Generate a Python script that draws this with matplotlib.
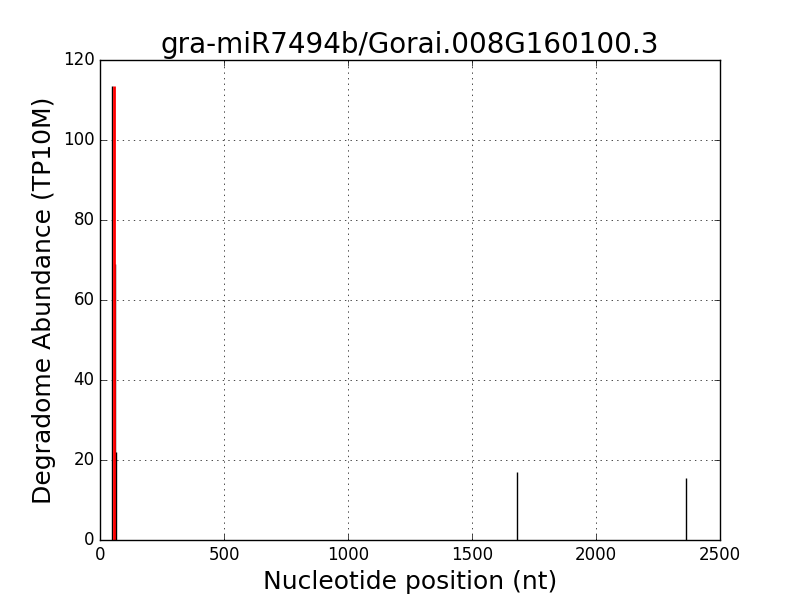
import matplotlib
matplotlib.use('Agg')
import matplotlib.pyplot as plt

plt.style.use('classic')

# degradome peaks (nt position, TP10M)
positions = [50, 59, 63, 1681, 2363]
abundance = [113.5, 69, 22, 17, 15.5]

# miRNA target site
target_pos = 55
target_val = 113.5

fig = plt.figure(figsize=(8, 6), dpi=100)
fig.patch.set_facecolor('white')
ax = fig.add_subplot(111)

ax.vlines(positions, 0, abundance, colors='k', linewidth=1)
ax.vlines([target_pos], 0, [target_val], colors='r', linewidth=2)

ax.set_xlim(0, 2500)
ax.set_ylim(0, 120)
ax.grid(True)
ax.set_title('gra-miR7494b/Gorai.008G160100.3', fontsize=20)
ax.set_xlabel('Nucleotide position (nt)', fontsize=18)
ax.set_ylabel('Degradome Abundance (TP10M)', fontsize=18)
ax.tick_params(labelsize=12)

fig.savefig('out.png', dpi=100, facecolor='white')
